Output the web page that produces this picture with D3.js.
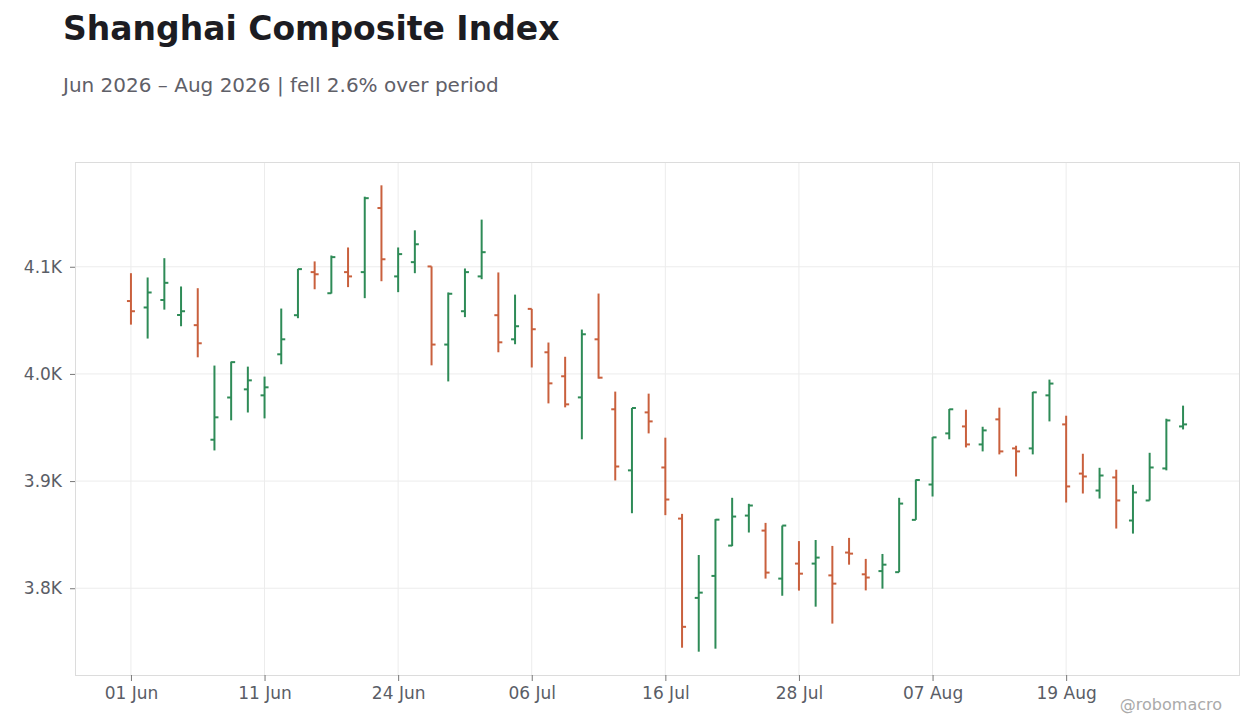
<!DOCTYPE html>
<html>
<head>
<meta charset="utf-8">
<script src="https://cdn.jsdelivr.net/npm/d3@7"></script>
<style>
  body { margin: 0; background: #ffffff; font-family: "DejaVu Sans", sans-serif; }
  .title { font-size: 33px; font-weight: bold; fill: #1c1c22; }
  .subtitle { font-size: 20px; fill: #5f6068; }
  .axis text { font-size: 17px; fill: #5a5d66; font-family: "DejaVu Sans", sans-serif; }
  .axis line { stroke: #777; }
  .axis path { display: none; }
  .grid line { stroke: #ececec; stroke-width: 1; }
  .frame { fill: none; stroke: #dcdcdc; stroke-width: 1; }
  .credit { font-size: 16px; fill: #aaaaaa; }
</style>
</head>
<body>
<div id="chart"></div>
<script>

// trading days (Jun 19 is a holiday)
let dates = [
    "2026-06-01","2026-06-02","2026-06-03","2026-06-04","2026-06-05",
    "2026-06-08","2026-06-09","2026-06-10","2026-06-11","2026-06-12",
    "2026-06-15","2026-06-16","2026-06-17","2026-06-18",
    "2026-06-22","2026-06-23","2026-06-24","2026-06-25","2026-06-26",
    "2026-06-29","2026-06-30","2026-07-01","2026-07-02","2026-07-03",
    "2026-07-06","2026-07-07","2026-07-08","2026-07-09","2026-07-10",
    "2026-07-13","2026-07-14","2026-07-15","2026-07-16","2026-07-17",
    "2026-07-20","2026-07-21","2026-07-22","2026-07-23","2026-07-24",
    "2026-07-27","2026-07-28","2026-07-29","2026-07-30","2026-07-31",
    "2026-08-03","2026-08-04","2026-08-05","2026-08-06","2026-08-07",
    "2026-08-10","2026-08-11","2026-08-12","2026-08-13","2026-08-14",
    "2026-08-17","2026-08-18","2026-08-19","2026-08-20","2026-08-21",
    "2026-08-24","2026-08-25","2026-08-26","2026-08-27","2026-08-28"
];

let openVals = [
    4068, 4062, 4069, 4055, 4045.5, 3938.6, 3978, 3985.6, 3980, 4018.3,
    4054.8, 4095, 4075.3, 4095, 4095, 4154.8, 4091, 4104.3, 4100.3, 4027.4,
    4058.5, 4091, 4054.8, 4032.3, 4060.7, 4020.2, 3997.8, 3978.1, 4032.3, 3967,
    3910, 3964.1, 3912.7, 3865, 3791, 3811.5, 3839.8, 3867.8, 3853.8, 3809,
    3823, 3823, 3812, 3833.3, 3813, 3816, 3815, 3863.8, 3896.8, 3944.5,
    3951, 3934.2, 3957.6, 3930.5, 3930.5, 3980, 3952.9, 3907, 3891.2, 3903.4,
    3863.2, 3881.9, 3911.8, 3951
];
let highVals = [
    4094, 4090, 4108, 4081.6, 4080, 4007.8, 4011.5, 4006.8, 3997.5, 4061,
    4098, 4105, 4110.5, 4118, 4165.4, 4176, 4118, 4134, 4100.3, 4076,
    4098.4, 4144, 4094.7, 4074, 4060.7, 4029.3, 4016, 4041.4, 4075, 3983.5,
    3968.2, 3981.6, 3940.5, 3869.4, 3831, 3864.5, 3884.4, 3878.8, 3861, 3858.5,
    3844, 3845, 3839.5, 3847, 3827.4, 3832, 3884.4, 3901.5, 3941, 3967.3,
    3966.6, 3950.7, 3968.5, 3933, 3983.2, 3994.7, 3961, 3925.5, 3912.4, 3910.6,
    3896.5, 3926.4, 3958.2, 3970.4
];
let lowVals = [
    4046, 4033, 4060, 4044.5, 4015.5, 3928.6, 3956.7, 3964, 3958.5, 4009,
    4052, 4079, 4075, 4081, 4070.7, 4086.5, 4076.3, 4094, 4008, 3993,
    4053, 4088.4, 4020.2, 4027.7, 4006, 3972.5, 3968.8, 3939, 3995.6, 3900.6,
    3870, 3944.5, 3868.2, 3744.5, 3740.8, 3743.6, 3839.3, 3852, 3809, 3793,
    3797.8, 3782.8, 3767, 3822, 3798, 3799.6, 3815, 3863.8, 3885.6, 3939,
    3931.4, 3927.7, 3924.9, 3904.3, 3924.9, 3955.7, 3880, 3888.4, 3883.7, 3855.7,
    3851, 3881.9, 3910, 3948.2
];
let closeVals = [
    4058.5, 4076, 4085, 4058.5, 4028.6, 3959.5, 4011, 3994, 3987.5, 4032.3,
    4097.8, 4093, 4109, 4091, 4164, 4107, 4111.8, 4121, 4027.4, 4074.8,
    4095, 4113.6, 4029.5, 4044.5, 4041.7, 3991.2, 3971.6, 4037, 3996.5, 3913.6,
    3968.2, 3955.7, 3882.8, 3764, 3795.9, 3864, 3866.9, 3877.2, 3814.6, 3858.5,
    3813.6, 3828.6, 3804.3, 3832.3, 3810, 3822, 3879, 3901, 3940.8, 3967,
    3934.2, 3947.3, 3927.7, 3927.7, 3982.8, 3991, 3895, 3904.3, 3905.2, 3881.9,
    3889.4, 3912.7, 3956.6, 3952.9
];

let upColor = "#2e8b57";
let downColor = "#c9603d";

let width = 1260, height = 728;
let margin = {top: 162, right: 21, bottom: 53, left: 75};
let plotW = width - margin.left - margin.right;
let plotH = height - margin.top - margin.bottom;

let parseDate = d3.timeParse("%Y-%m-%d");
let fmtDate = d3.timeFormat("%d %b");

let data = dates.map(function(d, i) {
    return {date: d, open: openVals[i], high: highVals[i], low: lowVals[i], close: closeVals[i]};
});

let svg = d3.select("#chart").append("svg")
    .attr("width", width)
    .attr("height", height);

// title + subtitle
let change = (closeVals[closeVals.length - 1] / closeVals[0] - 1) * 100;
svg.append("text").attr("class", "title").attr("x", 63).attr("y", 40)
    .text("Shanghai Composite Index");
svg.append("text").attr("class", "subtitle").attr("x", 63).attr("y", 92)
    .text("Jun 2026 \u2013 Aug 2026 | " + (change < 0 ? "fell " : "rose ") + Math.abs(change).toFixed(1) + "% over period");

let g = svg.append("g").attr("transform", "translate(" + margin.left + "," + margin.top + ")");

let x = d3.scalePoint()
    .domain(dates)
    .range([0, plotW])
    .padding(3.35);

let yMin = d3.min(lowVals), yMax = d3.max(highVals);
let pad = (yMax - yMin) * 0.05;
let y = d3.scaleLinear()
    .domain([yMin - pad, yMax + pad])
    .range([plotH, 0]);

let yTicks = y.ticks(5);
let xTicks = dates.filter(function(d, i) { return i % 8 === 0 && i < 60; });

// gridlines
g.append("g").attr("class", "grid")
    .selectAll("line.h").data(yTicks).enter().append("line")
    .attr("x1", 0).attr("x2", plotW)
    .attr("y1", d => y(d)).attr("y2", d => y(d));
g.append("g").attr("class", "grid")
    .selectAll("line.v").data(xTicks).enter().append("line")
    .attr("x1", d => x(d)).attr("x2", d => x(d))
    .attr("y1", 0).attr("y2", plotH);

g.append("rect").attr("class", "frame")
    .attr("x", 0.5).attr("y", 0.5)
    .attr("width", plotW).attr("height", plotH);

// axes
let yAxis = d3.axisLeft(y)
    .tickValues(yTicks)
    .tickSize(5)
    .tickPadding(8)
    .tickFormat(d => (d / 1000).toFixed(1) + "K");
g.append("g").attr("class", "axis").call(yAxis);

let xAxis = d3.axisBottom(x)
    .tickValues(xTicks)
    .tickSize(6)
    .tickPadding(6)
    .tickFormat(d => fmtDate(parseDate(d)));
g.append("g").attr("class", "axis")
    .attr("transform", "translate(0," + plotH + ")")
    .call(xAxis);

// OHLC bars
let bars = g.selectAll(".ohlc").data(data).enter().append("g")
    .attr("class", "ohlc")
    .style("stroke", d => d.close >= d.open ? upColor : downColor)
    .style("stroke-width", 2);

bars.append("line")
    .attr("x1", d => x(d.date)).attr("x2", d => x(d.date))
    .attr("y1", d => y(d.high)).attr("y2", d => y(d.low));
bars.append("line")
    .attr("x1", d => x(d.date) - 4).attr("x2", d => x(d.date))
    .attr("y1", d => y(d.open)).attr("y2", d => y(d.open));
bars.append("line")
    .attr("x1", d => x(d.date)).attr("x2", d => x(d.date) + 4)
    .attr("y1", d => y(d.close)).attr("y2", d => y(d.close));

svg.append("text").attr("class", "credit")
    .attr("x", 1222).attr("y", 710)
    .attr("text-anchor", "end")
    .text("@robomacro");

</script>
</body>
</html>
